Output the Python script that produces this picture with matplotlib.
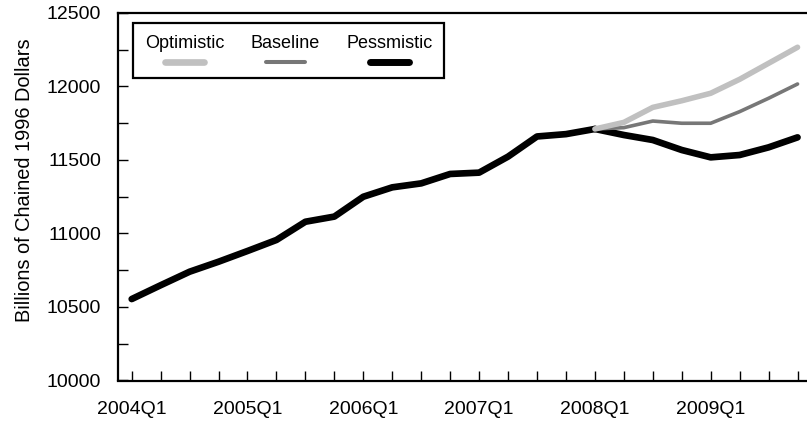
import matplotlib
matplotlib.use("Agg")
import matplotlib.pyplot as plt
import numpy as np
from matplotlib.lines import Line2D
from matplotlib.offsetbox import (AnchoredOffsetbox, DrawingArea, HPacker,
                                  TextArea, VPacker)
from matplotlib.ticker import MultipleLocator

plt.rcParams['font.family'] = ['Liberation Sans', 'DejaVu Sans']

# quarterly data, 2004Q1 .. 2009Q4
quarters = [f"{y}Q{q}" for y in range(2004, 2010) for q in range(1, 5)]
history = [10554, 10648, 10740, 10808, 10881, 10956, 11080, 11115, 11250,
           11314, 11341, 11405, 11414, 11523, 11660, 11676, 11711]  # to 2008Q1
optimistic = [11756, 11858, 11903, 11954, 12049, 12158, 12267]
baseline = [11720, 11765, 11750, 11750, 11829, 11920, 12017]
pessimistic = [11670, 11636, 11568, 11518, 11534, 11586, 11654]

names = ['Optimistic', 'Baseline', 'Pessmistic']
colors = ['#c0c0c0', '#777777', '#000000']
widths = [4.0, 2.6, 4.8]
leg_widths = [4.8, 2.9, 5.0]

x = np.arange(len(quarters))
n0 = len(history) - 1

fig = plt.figure(figsize=(8.07, 4.26), dpi=100)
ax = fig.add_axes([118 / 807, 45.5 / 426, 692 / 807, 367.5 / 426])

ax.plot(x[:n0 + 1], history, color=colors[2], lw=widths[2],
        solid_capstyle='round', solid_joinstyle='round')
ax.plot(x[n0:], [history[-1]] + pessimistic, color=colors[2], lw=widths[2],
        solid_capstyle='round', solid_joinstyle='round')
ax.plot(x[n0:], [history[-1]] + baseline, color=colors[1], lw=widths[1],
        solid_capstyle='round', solid_joinstyle='round')
ax.plot(x[n0:], [history[-1]] + optimistic, color=colors[0], lw=widths[0],
        solid_capstyle='round', solid_joinstyle='round')

ax.set_xlim(-0.473, 23.43)
ax.set_ylim(10000, 12500)
ax.set_xticks(x[::4])
ax.set_xticklabels(quarters[::4])
ax.set_xticks(x, minor=True)
ax.yaxis.set_major_locator(MultipleLocator(500))
ax.yaxis.set_minor_locator(MultipleLocator(250))
ax.tick_params(axis='both', which='both', direction='in', length=7, width=1,
               labelsize=14)
ax.tick_params(axis='x', which='major', pad=15)
ax.tick_params(axis='y', pad=12)
for s in ax.spines.values():
    s.set_linewidth(1.6)
ax.set_ylabel('Billions of Chained 1996 Dollars', fontsize=14.4, labelpad=9)
ax.yaxis.label.set_y(0.545)

# legend with text above each sample line
items = []
for name, c, w in zip(names, colors, leg_widths):
    da = DrawingArea(36, 7, 0, 0)
    da.add_artist(Line2D([4, 32], [3.5, 3.5], color=c, lw=w,
                         solid_capstyle='round'))
    ta = TextArea(name, textprops=dict(fontsize=13))
    items.append(VPacker(children=[ta, da], align='center', pad=0, sep=3.5))
row = HPacker(children=items, align='center', pad=0, sep=19)
leg = AnchoredOffsetbox(loc='upper left', child=row, pad=0.85, borderpad=0,
                        frameon=True, bbox_to_anchor=(133 / 807, 1 - 23 / 426),
                        bbox_transform=fig.transFigure)
leg.patch.set_linewidth(1.6)
leg.patch.set_edgecolor('black')
leg.patch.set_boxstyle('square', pad=0)
ax.add_artist(leg)

fig.savefig('out.png', dpi=100)
